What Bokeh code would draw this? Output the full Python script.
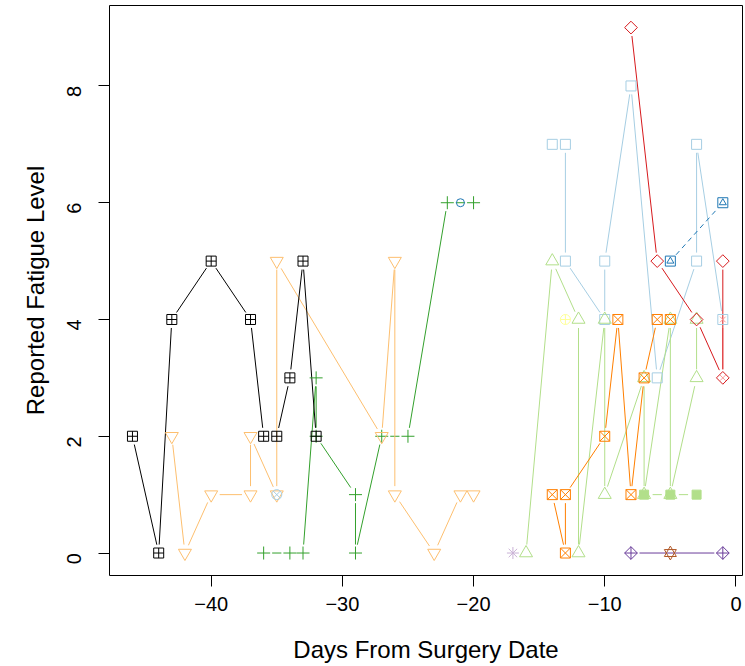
import math
from bokeh.plotting import figure
from bokeh.models import Range1d, FixedTicker
from bokeh.embed import file_html
from bokeh.resources import INLINE

# ---------------- data (days from surgery, reported fatigue) ----------------
black_days = [-46, -44, -43, -40, -37, -36, -35, -34, -33, -32]
black_vals = [2, 0, 4, 5, 4, 2, 2, 3, 5, 2]

ltorange_days = [-43, -42, -40, -37, -37, -35, -35, -27, -26, -26, -23, -21, -20]
ltorange_vals = [2, 0, 1, 1, 2, 1, 5, 2, 5, 1, 0, 1, 1]

green_days = [-36, -34, -33, -32, -32, -29, -29, -27, -25, -22, -20]
green_vals = [0, 0, 0, 3, 2, 1, 0, 2, 2, 6, 6]

blue_days = [-21]
blue_vals = [6]

ltblue_days = [-14, -13, -13, -10, -10, -8, -6, -3, -3, -1]
ltblue_vals = [7, 7, 5, 4, 5, 8, 3, 5, 7, 4]

red_days = [-8, -6, -3, -1, -1]
red_vals = [9, 5, 4, 3, 5]

orange_days = [-14, -13, -13, -10, -9, -8, -7, -6, -5]
orange_vals = [1, 0, 1, 2, 4, 1, 3, 4, 4]

ltgreen_days = [-16, -14, -12, -12, -10, -10, -7, -7, -5, -5, -3, -3]
ltgreen_vals = [0, 5, 4, 0, 4, 1, 3, 1, 4, 1, 3, 4]

ltgreen_sq_days = [-7, -5, -3]
ltgreen_sq_vals = [1, 1, 1]

purple_days = [-8, -1]
purple_vals = [0, 0]

ltpurple_days = [-17]
ltpurple_vals = [0]

yellow_days = [-13]
yellow_vals = [4]

brown_days = [-5]
brown_vals = [0]

pink_days = [-1, -1]
pink_vals = [4, 3]

ltblue2_days = [-35]
ltblue2_vals = [1]

blue2_days = [-5, -1]
blue2_vals = [5, 6]

x_ticks = [-40, -30, -20, -10, 0]
y_ticks = [0, 2, 4, 6, 8]

# ---------------- layout ----------------
W, H = 745, 666
BL, BR, BT, BB = 109, 3, 5, 91
XR = (-47.75, 0.5)
YR = (-0.385, 9.378)
FW = W - BL - BR
FH = H - BT - BB
SX = FW / (XR[1] - XR[0])
SY = FH / (YR[1] - YR[0])
GAP = 8.5  # pixel gap between line ends and points (type="b")

FONT = "Liberation Sans"

p = figure(width=W, height=H, output_backend="svg", toolbar_location=None,
           x_range=Range1d(*XR), y_range=Range1d(*YR),
           min_border_left=BL, min_border_right=BR,
           min_border_top=BT, min_border_bottom=BB)
p.grid.visible = False
p.outline_line_color = "black"
p.outline_line_width = 1
p.background_fill_color = "white"
p.border_fill_color = "white"

for ax, ticks in ((p.xaxis[0], x_ticks), (p.yaxis[0], y_ticks)):
    ax.ticker = FixedTicker(ticks=ticks)
    ax.axis_line_color = None
    ax.major_tick_in = 0
    ax.major_tick_out = 11
    ax.major_tick_line_color = "black"
    ax.minor_tick_line_color = None
    ax.major_label_text_font = FONT
    ax.major_label_text_font_size = "20px"
    ax.major_label_text_color = "black"
    ax.axis_label_text_font = FONT
    ax.axis_label_text_font_size = "24px"
    ax.axis_label_text_font_style = "normal"
    ax.axis_label_text_color = "black"

p.xaxis[0].axis_label = "Days From Surgery Date"
p.xaxis[0].major_label_standoff = 10
p.xaxis[0].axis_label_standoff = 22
p.yaxis[0].axis_label = "Reported Fatigue Level"
p.yaxis[0].major_label_orientation = math.pi / 2
p.yaxis[0].major_label_standoff = 24
p.yaxis[0].axis_label_standoff = 9


def gapped_lines(days, vals, color, dash="solid"):
    x0, y0, x1, y1 = [], [], [], []
    for i in range(len(days) - 1):
        dx = (days[i + 1] - days[i]) * SX
        dy = (vals[i + 1] - vals[i]) * SY
        L = math.hypot(dx, dy)
        if L <= 2 * GAP + 1:
            continue
        t0 = GAP / L
        t1 = 1 - GAP / L
        x0.append(days[i] + t0 * (days[i + 1] - days[i]))
        y0.append(vals[i] + t0 * (vals[i + 1] - vals[i]))
        x1.append(days[i] + t1 * (days[i + 1] - days[i]))
        y1.append(vals[i] + t1 * (vals[i + 1] - vals[i]))
    if x0:
        p.segment(x0, y0, x1, y1, line_color=color, line_width=1, line_dash=dash)


def pts(days, vals, marker, color, size, angle=0.0, fill=None):
    p.scatter(days, vals, marker=marker, size=size, angle=angle,
              line_color=color, line_width=1,
              fill_color=fill if fill else None,
              fill_alpha=1.0 if fill else 0.0)


series = [
    (ltblue_days, ltblue_vals, "#A6CEE3", "solid"),
    (blue_days, blue_vals, "#1F78B4", "solid"),
    (ltgreen_days, ltgreen_vals, "#B2DF8A", "solid"),
    (green_days, green_vals, "#33A02C", "solid"),
    (pink_days, pink_vals, "#FB9A99", "solid"),
    (red_days, red_vals, "#D7191C", "solid"),
    (ltorange_days, ltorange_vals, "#FDBF6F", "solid"),
    (orange_days, orange_vals, "#FF7F00", "solid"),
    (ltpurple_days, ltpurple_vals, "#CAB2D6", "solid"),
    (purple_days, purple_vals, "#6A3D9A", "solid"),
    (yellow_days, yellow_vals, "#FFFF99", "solid"),
    (brown_days, brown_vals, "#B15928", "solid"),
    (black_days, black_vals, "black", "solid"),
    (ltblue2_days, ltblue2_vals, "#A6CEE3", "solid"),
    (blue2_days, blue2_vals, "#1F78B4", "5 4"),
    (ltgreen_sq_days, ltgreen_sq_vals, "#B2DF8A", "solid"),
]
for d, v, c, dash in series:
    gapped_lines(d, v, c, dash)

# markers (R pch equivalents)
pts(ltblue_days, ltblue_vals, "square", "#A6CEE3", 10)
pts(blue_days, blue_vals, "circle", "#1F78B4", 8)
pts(ltgreen_sq_days, ltgreen_sq_vals, "square", "#B2DF8A", 9, fill="#B2DF8A")
pts(ltgreen_days, ltgreen_vals, "triangle", "#B2DF8A", 13)
pts(green_days, green_vals, "cross", "#33A02C", 13)
pts(red_days, red_vals, "square", "#D7191C", 9, angle=math.pi / 4)
pts(pink_days, pink_vals, "x", "#FB9A99", 8)
pts(ltorange_days, ltorange_vals, "inverted_triangle", "#FDBF6F", 13)
pts(orange_days, orange_vals, "square_x", "#FF7F00", 10)
pts(ltpurple_days, ltpurple_vals, "asterisk", "#CAB2D6", 12)
pts(purple_days, purple_vals, "square_x", "#6A3D9A", 9, angle=math.pi / 4)
pts(yellow_days, yellow_vals, "circle_cross", "#FFFF99", 10)
pts(brown_days, brown_vals, "triangle", "#B15928", 12)
pts(brown_days, brown_vals, "inverted_triangle", "#B15928", 12)
pts(black_days, black_vals, "square_cross", "black", 10)
pts(ltblue2_days, ltblue2_vals, "circle_x", "#A6CEE3", 10)
pts(blue2_days, blue2_vals, "square", "#1F78B4", 10)
pts(blue2_days, blue2_vals, "triangle", "#1F78B4", 7)

open("out.html", "w").write(file_html(p, INLINE))
